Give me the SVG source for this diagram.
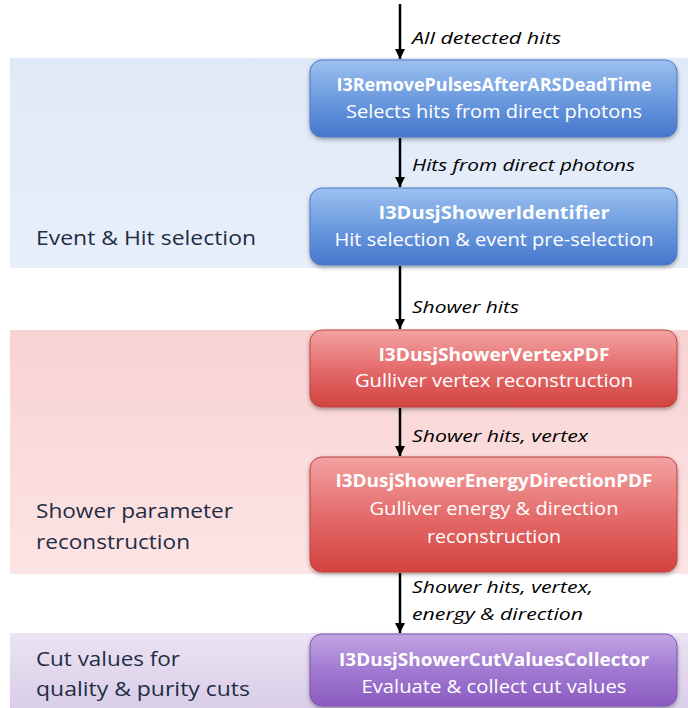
<svg xmlns="http://www.w3.org/2000/svg" width="688" height="708" viewBox="0 0 688 708">
<defs>
<linearGradient id="bandBlue" x1="0" y1="0" x2="0" y2="1"><stop offset="0" stop-color="#dfe9f8"/><stop offset="1" stop-color="#e8effa"/></linearGradient>
<linearGradient id="bandRed" x1="0" y1="0" x2="0" y2="1"><stop offset="0" stop-color="#f9d2d3"/><stop offset="1" stop-color="#fde4e4"/></linearGradient>
<linearGradient id="bandPurple" x1="0" y1="0" x2="0" y2="1"><stop offset="0" stop-color="#ebe4f3"/><stop offset="1" stop-color="#d9cde8"/></linearGradient>
<linearGradient id="boxBlue" x1="0" y1="0" x2="0" y2="1"><stop offset="0" stop-color="#9dc0ef"/><stop offset="0.5" stop-color="#6c9be0"/><stop offset="1" stop-color="#4677cc"/></linearGradient>
<linearGradient id="boxRed" x1="0" y1="0" x2="0" y2="1"><stop offset="0" stop-color="#f3a3a3"/><stop offset="0.5" stop-color="#e56c6c"/><stop offset="1" stop-color="#d2423f"/></linearGradient>
<linearGradient id="boxPurple" x1="0" y1="0" x2="0" y2="1"><stop offset="0" stop-color="#c3a6e4"/><stop offset="0.5" stop-color="#a179d2"/><stop offset="1" stop-color="#8a5bc0"/></linearGradient>
<filter id="shadow" x="-5%" y="-10%" width="110%" height="130%"><feDropShadow dx="0" dy="2" stdDeviation="2" flood-color="#000" flood-opacity="0.35"/></filter>
<marker id="arrow" viewBox="0 0 10 10" refX="10" refY="5" markerWidth="4" markerHeight="4" markerUnits="strokeWidth" orient="auto"><path d="M0,0 L10,5 L0,10 z" fill="#000"/></marker>
</defs>
<style>
.box{stroke-width:1;filter:url(#shadow)}
.blue{fill:url(#boxBlue);stroke:#4a78c4}
.red{fill:url(#boxRed);stroke:#c04040}
.purple{fill:url(#boxPurple);stroke:#7d54b0}
.t{font-family:"Open Sans","Liberation Sans",sans-serif;fill:#fff;text-anchor:middle;font-size:18px}
.tb{font-weight:bold}
.side{font-family:"Open Sans","Liberation Sans",sans-serif;fill:#1f2d45;font-size:20px}
.lbl{font-family:"Open Sans","Liberation Sans",sans-serif;font-style:italic;fill:#000;font-size:17px}
.conn{stroke:#000;stroke-width:2.5;fill:none;marker-end:url(#arrow)}
</style>
<rect width="688" height="708" fill="#fff"/>
<g id="bands">
<rect x="10" y="58" width="678" height="210" fill="url(#bandBlue)"/>
<rect x="10" y="330" width="678" height="244" fill="url(#bandRed)"/>
<rect x="10" y="633" width="678" height="75" fill="url(#bandPurple)"/>
</g>
<g id="side-labels">
<text class="side" x="36" y="245" textLength="220" lengthAdjust="spacingAndGlyphs">Event &amp; Hit selection</text>
<text class="side" x="36" y="518" textLength="197" lengthAdjust="spacingAndGlyphs">Shower parameter</text>
<text class="side" x="36" y="549" textLength="154" lengthAdjust="spacingAndGlyphs">reconstruction</text>
<text class="side" x="36" y="666" textLength="144" lengthAdjust="spacingAndGlyphs">Cut values for</text>
<text class="side" x="36" y="696" textLength="214" lengthAdjust="spacingAndGlyphs">quality &amp; purity cuts</text>
</g>
<g id="connectors">
<line class="conn" x1="400" y1="4" x2="400" y2="59"/>
<line class="conn" x1="400" y1="138" x2="400" y2="187"/>
<line class="conn" x1="400" y1="266" x2="400" y2="329"/>
<line class="conn" x1="400" y1="408" x2="400" y2="456"/>
<line class="conn" x1="400" y1="573" x2="400" y2="633"/>
<text class="lbl" x="412" y="44" textLength="149" lengthAdjust="spacingAndGlyphs">All detected hits</text>
<text class="lbl" x="412" y="171" textLength="223" lengthAdjust="spacingAndGlyphs">Hits from direct photons</text>
<text class="lbl" x="412" y="313" textLength="107" lengthAdjust="spacingAndGlyphs">Shower hits</text>
<text class="lbl" x="412" y="442" textLength="176" lengthAdjust="spacingAndGlyphs">Shower hits, vertex</text>
<text class="lbl" x="412" y="593" textLength="181" lengthAdjust="spacingAndGlyphs">Shower hits, vertex,</text>
<text class="lbl" x="412" y="620" textLength="171" lengthAdjust="spacingAndGlyphs">energy &amp; direction</text>
</g>
<g id="n1">
<rect class="box blue" x="310" y="60" width="367" height="77" rx="12"/>
<text class="t tb" x="494" y="91" textLength="315" lengthAdjust="spacingAndGlyphs">I3RemovePulsesAfterARSDeadTime</text>
<text class="t" x="494" y="118" textLength="296" lengthAdjust="spacingAndGlyphs">Selects hits from direct photons</text>
</g>
<g id="n2">
<rect class="box blue" x="310" y="188" width="367" height="77" rx="12"/>
<text class="t tb" x="494" y="219" textLength="231" lengthAdjust="spacingAndGlyphs">I3DusjShowerIdentifier</text>
<text class="t" x="494" y="246" textLength="319" lengthAdjust="spacingAndGlyphs">Hit selection &amp; event pre-selection</text>
</g>
<g id="n3">
<rect class="box red" x="310" y="330" width="367" height="77" rx="12"/>
<text class="t tb" x="494" y="361" textLength="231" lengthAdjust="spacingAndGlyphs">I3DusjShowerVertexPDF</text>
<text class="t" x="494" y="387" textLength="278" lengthAdjust="spacingAndGlyphs">Gulliver vertex reconstruction</text>
</g>
<g id="n4">
<rect class="box red" x="310" y="457" width="367" height="115" rx="12"/>
<text class="t tb" x="494" y="487" textLength="317" lengthAdjust="spacingAndGlyphs">I3DusjShowerEnergyDirectionPDF</text>
<text class="t" x="494" y="515" textLength="249" lengthAdjust="spacingAndGlyphs">Gulliver energy &amp; direction</text>
<text class="t" x="494" y="543" textLength="134" lengthAdjust="spacingAndGlyphs">reconstruction</text>
</g>
<g id="n5">
<rect class="box purple" x="310" y="634" width="367" height="72" rx="12"/>
<text class="t tb" x="494" y="666" textLength="310" lengthAdjust="spacingAndGlyphs">I3DusjShowerCutValuesCollector</text>
<text class="t" x="494" y="693" textLength="265" lengthAdjust="spacingAndGlyphs">Evaluate &amp; collect cut values</text>
</g>
</svg>
